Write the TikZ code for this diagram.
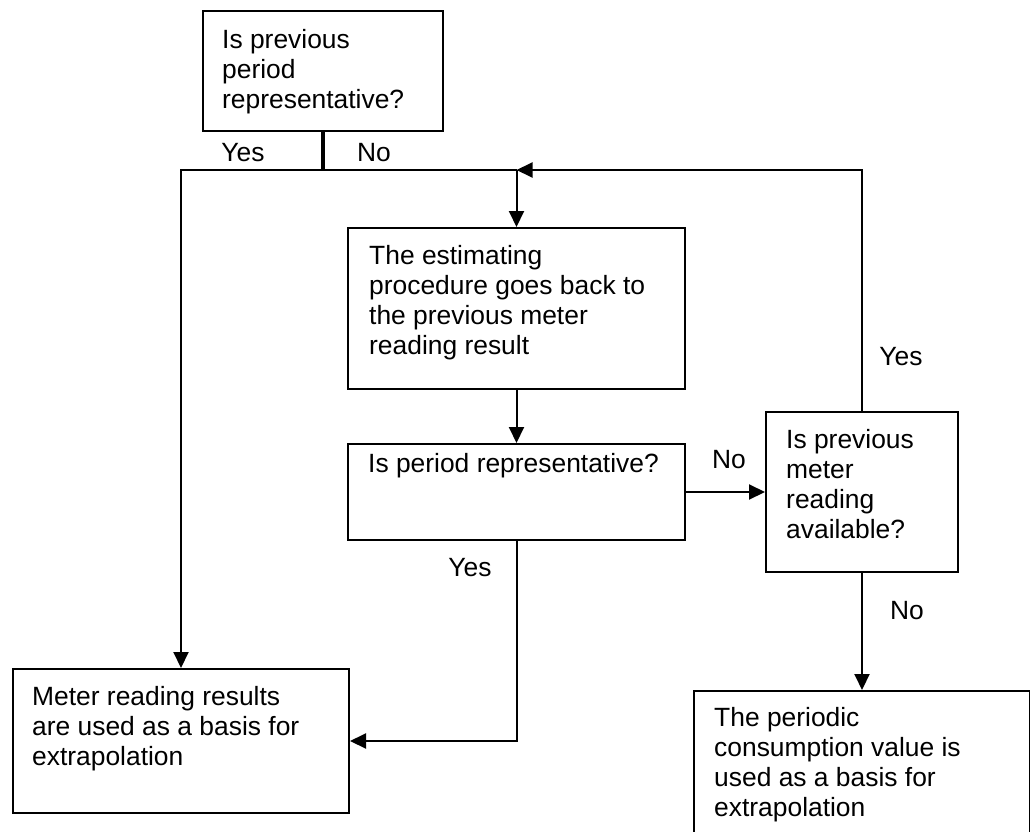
\documentclass[tikz,border=0pt]{standalone}
\usepackage{fontspec}
\setmainfont{Liberation Sans}
\usetikzlibrary{arrows.meta,positioning}

\tikzset{
  box/.style={draw, line width=2pt, anchor=north west, inner sep=0pt},
  txt/.style={align=left, inner sep=0pt, font=\fontsize{26.4}{30}\selectfont},
  lbl/.style={inner sep=0pt, font=\fontsize{26.4}{30}\selectfont},
  flow/.style={line width=2pt, -{Triangle[length=16pt,width=15pt]}},
}

\begin{document}
\begin{tikzpicture}[x=1pt,y=-1pt]
\useasboundingbox (0,0) rectangle (1030,832);
% boxes
\node[box, minimum width=240pt, minimum height=120pt] (q1) at (202,10) {};
\node[box, minimum width=337pt, minimum height=161pt] (est) at (347,227) {};
\node[box, minimum width=337pt, minimum height=96pt] (q2) at (347,443) {};
\node[box, minimum width=192pt, minimum height=160pt] (q3) at (765,411) {};
\node[box, minimum width=336pt, minimum height=144pt] (res) at (12,668) {};
\node[box, minimum width=336pt, minimum height=145pt] (cons) at (693,690) {};
% texts in the boxes
\node[txt, below right=19pt and 20pt of q1.north west] (q1t) {Is previous\\period\\representative?};
\node[txt, below right=18pt and 22pt of est.north west] (estt) {The estimating\\procedure goes back to\\the previous meter\\reading result};
\node[txt, below right=10pt and 21pt of q2.north west] (q2t) {Is period representative?};
\node[txt, below right=18pt and 21pt of q3.north west] (q3t) {Is previous\\meter\\reading\\available?};
\node[txt, below right=18pt and 20pt of res.north west] (rest) {Meter reading results\\are used as a basis for\\extrapolation};
\node[txt, below right=17pt and 21pt of cons.north west] (const) {The periodic\\consumption value is\\used as a basis for\\extrapolation};
% connectors
\coordinate (split) at (est.north |- 0,170);
\draw[line width=3.5pt] (q1.south) -- (q1.south |- split);
\draw[flow] (split) -| (res.north);
\draw[flow] (split) -- (est.north);
\draw[flow] (q3.north) |- (split);
\draw[flow] (est.south) -- (q2.north);
\draw[flow] (q2.east) -- (q3.west);
\draw[flow] (q2.south) |- (res.east);
\draw[flow] (q3.south) -- (cons.north);
% yes / no
\node[lbl] (y1) at (243,153) {Yes};
\node[lbl] (n1) at (374,153) {No};
\node[lbl] (n2) at (729,460) {No};
\node[lbl] (y3) at (901,357) {Yes};
\node[lbl] (n3) at (907,611) {No};
\node[lbl] (y2) at (470,568) {Yes};
\end{tikzpicture}
\end{document}
